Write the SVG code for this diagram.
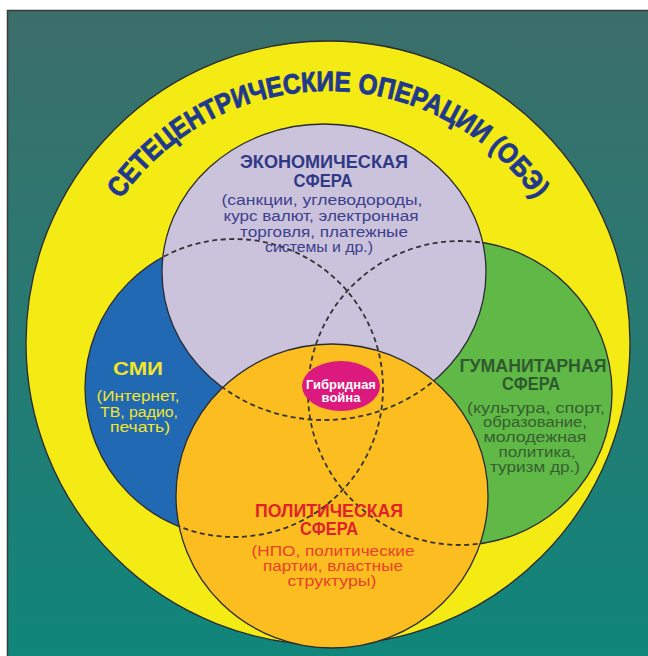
<svg xmlns="http://www.w3.org/2000/svg" width="648" height="656" viewBox="0 0 648 656">
  <defs>
    <linearGradient id="bg" x1="0" y1="0" x2="0" y2="1">
      <stop offset="0" stop-color="#3c6e6a"/>
      <stop offset="1" stop-color="#0f877c"/>
    </linearGradient>
    <!-- hidden circle outlines are drawn dashed inside the shapes that cover them -->
    <clipPath id="clipUpper">
      <ellipse cx="324" cy="272" rx="162" ry="148"/>
      <ellipse cx="332" cy="496" rx="156" ry="152"/>
    </clipPath>
    <clipPath id="clipLower">
      <ellipse cx="332" cy="496" rx="156" ry="152"/>
    </clipPath>
    <!-- baseline of the ring caption: radius 252 around the ring centre (328, 343) -->
    <path id="ringPath" d="M 93.8 250 A 252 252 0 0 1 562.2 250"/>
    <style>
      .edge { stroke: #2a2b33; stroke-width: 1.3; }
      .hidden { fill: none; stroke: #333; stroke-width: 1.8; stroke-dasharray: 5 3.5; }
      .t { font-family: "Liberation Sans", Arial, sans-serif; text-anchor: middle; }
      .head { font-weight: bold; font-size: 18px; }
      .sub { font-size: 15.5px; }
      .econ { fill: #2f3985; }
      .econSub { fill: #3b3f8c; }
      .media { fill: #f2e62a; }
      .hum { fill: #2f5a2f; }
      .humSub { fill: #36602f; }
      .pol { fill: #e0232b; }
      .polSub { fill: #e8412c; }
    </style>
  </defs>

  <rect x="0" y="0" width="648" height="656" fill="#ffffff"/>
  <rect x="7.5" y="10.5" width="660" height="670" fill="url(#bg)" stroke="#3a3a3a" stroke-width="1.5"/>

  <g id="outer-ring">
    <circle cx="328" cy="343" r="302" fill="#f4ea14" class="edge"/>
    <text class="t" font-weight="bold" font-size="28" fill="#1f3a8c" stroke="#1f3a8c" stroke-width="0.9" stroke-linejoin="round">
      <textPath href="#ringPath" startOffset="50%" textLength="486" lengthAdjust="spacingAndGlyphs">СЕТЕЦЕНТРИЧЕСКИЕ ОПЕРАЦИИ (ОБЭ)</textPath>
    </text>
  </g>

  <g id="media">
    <circle cx="234" cy="388" r="149" fill="#2169b3" class="edge"/>
  </g>

  <g id="humanitarian">
    <circle cx="460" cy="393" r="152" fill="#60b847" class="edge"/>
  </g>

  <g id="economic">
    <ellipse cx="324" cy="272" rx="162" ry="148" fill="#cbc2dc" class="edge"/>
  </g>

  <g id="political">
    <ellipse cx="332" cy="496" rx="156" ry="152" fill="#fbbd1f" class="edge"/>
  </g>

  <g id="connectors">
    <circle cx="234" cy="388" r="149" class="hidden" clip-path="url(#clipUpper)"/>
    <circle cx="460" cy="393" r="152" class="hidden" clip-path="url(#clipUpper)"/>
    <ellipse cx="324" cy="272" rx="162" ry="148" class="hidden" clip-path="url(#clipLower)"/>
  </g>

  <g id="economic-label">
    <text class="t head econ" x="324" y="168" textLength="168" lengthAdjust="spacingAndGlyphs">ЭКОНОМИЧЕСКАЯ</text>
    <text class="t head econ" x="323" y="187" textLength="59" lengthAdjust="spacingAndGlyphs">СФЕРА</text>
    <text class="t sub econSub" x="322" y="205" textLength="201" lengthAdjust="spacingAndGlyphs">(санкции, углеводороды,</text>
    <text class="t sub econSub" x="321" y="221" textLength="195" lengthAdjust="spacingAndGlyphs">курс валют, электронная</text>
    <text class="t sub econSub" x="324" y="237" textLength="168" lengthAdjust="spacingAndGlyphs">торговля, платежные</text>
    <text class="t sub econSub" x="319" y="252" textLength="108" lengthAdjust="spacingAndGlyphs">системы и др.)</text>
  </g>

  <g id="media-label">
    <text class="t head media" x="138" y="375" font-size="20" textLength="50" lengthAdjust="spacingAndGlyphs">СМИ</text>
    <text class="t sub media" x="138" y="401" textLength="83" lengthAdjust="spacingAndGlyphs">(Интернет,</text>
    <text class="t sub media" x="139" y="417" textLength="78" lengthAdjust="spacingAndGlyphs">ТВ, радио,</text>
    <text class="t sub media" x="140" y="432" textLength="60" lengthAdjust="spacingAndGlyphs">печать)</text>
  </g>

  <g id="humanitarian-label">
    <text class="t head hum" x="533" y="372" textLength="147" lengthAdjust="spacingAndGlyphs">ГУМАНИТАРНАЯ</text>
    <text class="t head hum" x="531" y="390" textLength="58" lengthAdjust="spacingAndGlyphs">СФЕРА</text>
    <text class="t sub humSub" x="536" y="413" textLength="138" lengthAdjust="spacingAndGlyphs">(культура, спорт,</text>
    <text class="t sub humSub" x="535" y="427" textLength="104" lengthAdjust="spacingAndGlyphs">образование,</text>
    <text class="t sub humSub" x="535" y="442" textLength="103" lengthAdjust="spacingAndGlyphs">молодежная</text>
    <text class="t sub humSub" x="537" y="457" textLength="77" lengthAdjust="spacingAndGlyphs">политика,</text>
    <text class="t sub humSub" x="535" y="472" textLength="90" lengthAdjust="spacingAndGlyphs">туризм др.)</text>
  </g>

  <g id="political-label">
    <text class="t head pol" x="329" y="517" textLength="148" lengthAdjust="spacingAndGlyphs">ПОЛИТИЧЕСКАЯ</text>
    <text class="t head pol" x="329" y="535" textLength="58" lengthAdjust="spacingAndGlyphs">СФЕРА</text>
    <text class="t sub polSub" x="333" y="556" textLength="163" lengthAdjust="spacingAndGlyphs">(НПО, политические</text>
    <text class="t sub polSub" x="333" y="571" textLength="140" lengthAdjust="spacingAndGlyphs">партии, властные</text>
    <text class="t sub polSub" x="332" y="586" textLength="89" lengthAdjust="spacingAndGlyphs">структуры)</text>
  </g>

  <g id="hybrid-war">
    <ellipse cx="341" cy="386" rx="39" ry="25" fill="#dc1a7d"/>
    <text class="t" x="341" y="389" font-size="13" font-weight="bold" fill="#ffffff">Гибридная</text>
    <text class="t" x="341" y="402" font-size="13" font-weight="bold" fill="#ffffff">война</text>
  </g>
</svg>
